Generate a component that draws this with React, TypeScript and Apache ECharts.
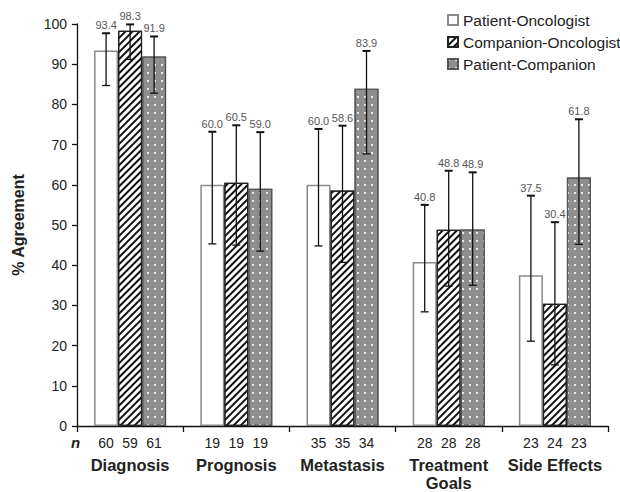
import React, { useEffect, useRef } from "react";
import * as echarts from "echarts";

const categories = ["Diagnosis", "Prognosis", "Metastasis", "Treatment\nGoals", "Side Effects"];
const seriesNames = ["Patient-Oncologist", "Companion-Oncologist", "Patient-Companion"];

const poValues = [93.4, 60.0, 60.0, 40.8, 37.5];
const coValues = [98.3, 60.5, 58.6, 48.8, 30.4];
const pcValues = [91.9, 59.0, 83.9, 48.9, 61.8];

const poLow = [84.7, 45.3, 44.8, 28.4, 21.1];
const poHigh = [97.7, 73.2, 73.9, 55.0, 57.3];
const coLow = [91.2, 45.0, 40.7, 34.8, 15.2];
const coHigh = [99.9, 74.8, 74.7, 63.5, 50.7];
const pcLow = [82.8, 43.5, 67.7, 35.0, 45.2];
const pcHigh = [96.9, 73.1, 93.3, 63.1, 76.3];

const nPO = [60, 19, 35, 28, 23];
const nCO = [59, 19, 35, 28, 24];
const nPC = [61, 19, 34, 28, 23];

const yTicks = { min: 0, max: 100, interval: 10 };

const FONT = "'Liberation Sans', Arial, Helvetica, sans-serif";
const BAR_W = 24;

export default function App() {
  const ref = useRef<HTMLDivElement>(null);

  useEffect(() => {
    document.body.style.margin = "0";
    if (!ref.current) return;
    const chart = echarts.init(ref.current, null, { renderer: "svg" });

    const valueSets = [poValues, coValues, pcValues];
    const lows = [poLow, coLow, pcLow];
    const highs = [poHigh, coHigh, pcHigh];

    const barStyles: any[] = [
      { color: "#ffffff", borderColor: "#8a8a8a", borderWidth: 1.5 },
      {
        color: "#ffffff",
        borderColor: "#222222",
        borderWidth: 1.2,
        decal: {
          symbol: "rect",
          symbolSize: 1,
          color: "#111111",
          dashArrayX: [1, 0],
          dashArrayY: [1.8, 2.8],
          rotation: -Math.PI / 4,
        },
      },
      {
        color: "#8e8e8e",
        borderColor: "#555555",
        borderWidth: 1.2,
        decal: {
          symbol: "rect",
          symbolSize: 1,
          color: "rgba(255,255,255,0.8)",
          dashArrayX: [1.2, 5],
          dashArrayY: [1.2, 6],
          rotation: 0,
        },
      },
    ];

    const barSeries = seriesNames.map((name, k) => ({
      name,
      type: "bar",
      data: valueSets[k],
      barWidth: BAR_W,
      barGap: "0%",
      itemStyle: barStyles[k],
      z: 2,
    }));

    const errSeries = seriesNames.map((name, k) => ({
      type: "custom",
      name: name + "-err",
      z: 5,
      silent: true,
      encode: { x: 0, y: [1, 2] },
      data: categories.map((_, i) => [i, lows[k][i], highs[k][i], valueSets[k][i]]),
      renderItem: (params: any, api: any) => {
        const idx = api.value(0);
        const lo = api.coord([idx, api.value(1)]);
        const hi = api.coord([idx, api.value(2)]);
        const x = lo[0] + (k - 1) * BAR_W;
        const cap = 4;
        const lineStyle = { stroke: "#111111", lineWidth: 1.3 };
        return {
          type: "group",
          children: [
            { type: "line", shape: { x1: x, y1: lo[1], x2: x, y2: hi[1] }, style: lineStyle },
            { type: "line", shape: { x1: x - cap, y1: hi[1], x2: x + cap, y2: hi[1] }, style: { stroke: "#111", lineWidth: 2 } },
            { type: "line", shape: { x1: x - cap, y1: lo[1], x2: x + cap, y2: lo[1] }, style: lineStyle },
            {
              type: "text",
              style: {
                text: api.value(3).toFixed(1),
                x: x,
                y: hi[1] - 2.5,
                align: "center",
                verticalAlign: "bottom",
                fontSize: 11,
                fontFamily: FONT,
                fill: "#555555",
              },
            },
          ],
        };
      },
    }));

    const option: any = {
      animation: false,
      textStyle: { fontFamily: FONT },
      grid: { left: 77, right: 12, top: 24, bottom: 66, containLabel: false, outerBoundsMode: "none" },
      legend: {
        data: seriesNames.map((name) => ({ name, icon: "rect" })),
        orient: "vertical",
        left: 442,
        top: 7,
        itemWidth: 10,
        itemHeight: 10,
        itemGap: 6,
        itemTextGap: 4,
        textStyle: { fontSize: 15.5, color: "#222", fontFamily: FONT },
        selectedMode: false,
      },
      xAxis: {
        type: "category",
        data: categories,
        axisLine: { lineStyle: { color: "#111", width: 1.3 } },
        axisTick: { show: true, length: 6, lineStyle: { color: "#111", width: 1.3 } },
        axisLabel: {
          interval: 0,
          margin: 9,
          formatter: (value: string, i: number) => {
            const words = value.split("\n").map((w) => `{c|${w}}`).join("\n");
            return `{n|${nPO[i]}}{n|${nCO[i]}}{n|${nPC[i]}}\n{s| }\n${words}`;
          },
          rich: {
            n: { fontSize: 14, lineHeight: 15, width: BAR_W, align: "center", color: "#222", fontFamily: FONT },
            s: { fontSize: 2, lineHeight: 6 },
            c: { fontSize: 16.5, lineHeight: 18, fontWeight: "bold", color: "#222", fontFamily: FONT },
          },
        },
      },
      yAxis: {
        type: "value",
        min: yTicks.min,
        max: yTicks.max,
        interval: yTicks.interval,
        name: "% Agreement",
        nameLocation: "middle",
        nameGap: 51,
        nameTextStyle: { fontSize: 16, fontWeight: "bold", color: "#222", fontFamily: FONT },
        splitLine: { show: false },
        axisLine: { show: true, lineStyle: { color: "#111", width: 1.3 } },
        axisTick: { show: true, length: 5, lineStyle: { color: "#111", width: 1.3 } },
        axisLabel: { fontSize: 14, color: "#222", margin: 10, fontFamily: FONT },
      },
      graphic: [
        {
          type: "text",
          left: 71,
          top: 435,
          style: {
            text: "n",
            fontSize: 15,
            fontWeight: "bold",
            fontStyle: "italic",
            fill: "#222",
            fontFamily: FONT,
          },
        },
      ],
      series: [...barSeries, ...errSeries],
    };

    chart.setOption(option);
    return () => chart.dispose();
  }, []);

  return <div ref={ref} style={{ width: 620, height: 492 }} />;
}
